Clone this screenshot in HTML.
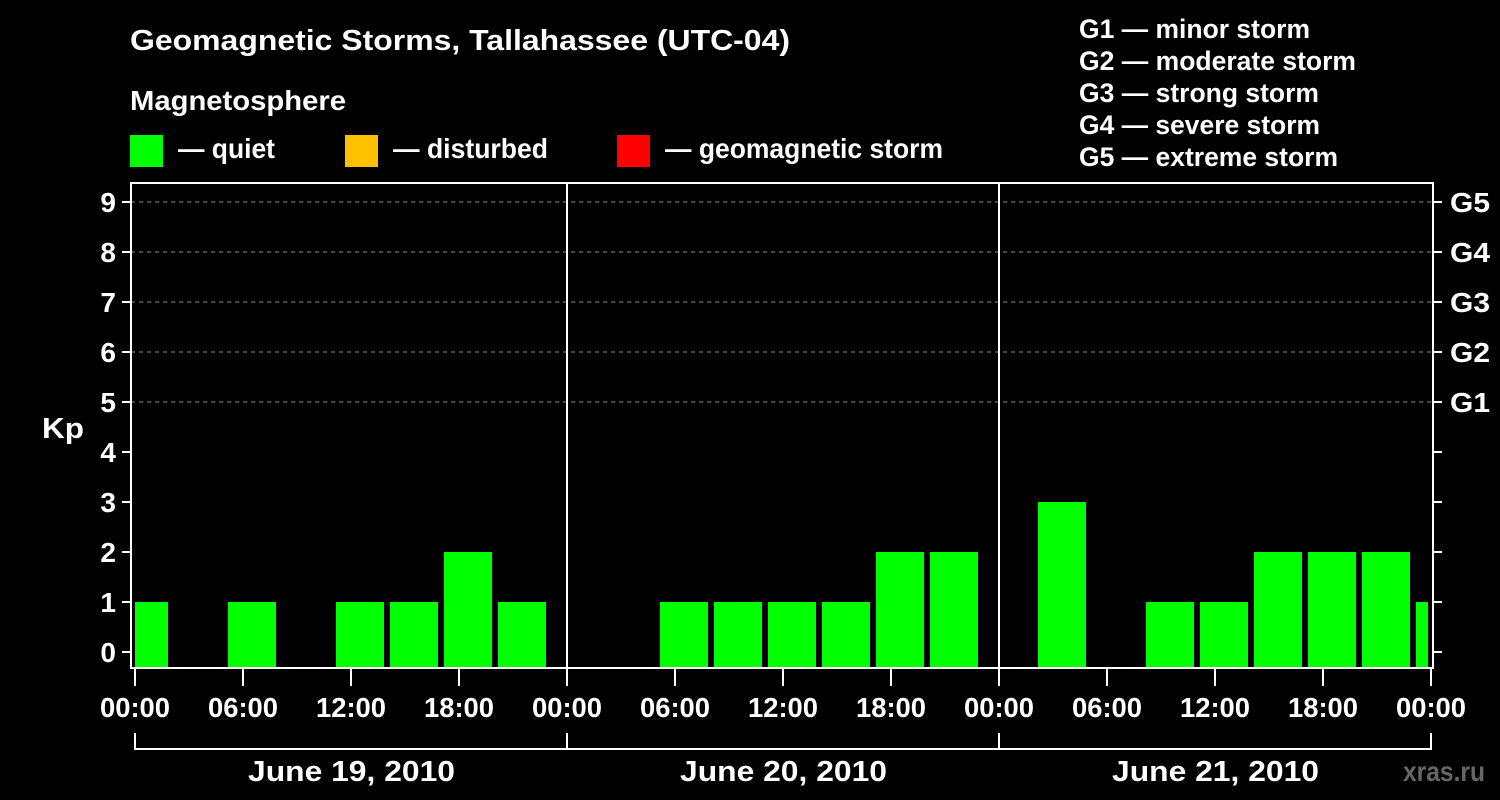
<!DOCTYPE html>
<html><head><meta charset="utf-8"><style>
html,body{margin:0;padding:0;background:#000;width:1500px;height:800px;overflow:hidden}
svg text{font-family:"Liberation Sans",sans-serif;font-weight:bold;fill:#fff}
</style></head><body>
<svg id="chart" width="1500" height="800" viewBox="0 0 1500 800" xmlns="http://www.w3.org/2000/svg">
<rect width="1500" height="800" fill="#000"/>
<text x="130" y="50" font-size="29" textLength="660" lengthAdjust="spacingAndGlyphs">Geomagnetic Storms, Tallahassee (UTC-04)</text>
<text x="130" y="110" font-size="28" textLength="216" lengthAdjust="spacingAndGlyphs">Magnetosphere</text>
<rect x="130" y="135" width="33" height="32" fill="#00ff00"/>
<text x="178" y="158" font-size="28" textLength="97" lengthAdjust="spacingAndGlyphs">— quiet</text>
<rect x="345" y="135" width="33" height="32" fill="#ffc000"/>
<text x="393" y="158" font-size="28" textLength="155" lengthAdjust="spacingAndGlyphs">— disturbed</text>
<rect x="617" y="135" width="33" height="32" fill="#ff0000"/>
<text x="665" y="158" font-size="28" textLength="278" lengthAdjust="spacingAndGlyphs">— geomagnetic storm</text>
<g>
<text x="1079" y="38" font-size="27" textLength="231" lengthAdjust="spacingAndGlyphs">G1 — minor storm</text>
<text x="1079" y="70" font-size="27" textLength="277" lengthAdjust="spacingAndGlyphs">G2 — moderate storm</text>
<text x="1079" y="102" font-size="27" textLength="240" lengthAdjust="spacingAndGlyphs">G3 — strong storm</text>
<text x="1079" y="134" font-size="27" textLength="241" lengthAdjust="spacingAndGlyphs">G4 — severe storm</text>
<text x="1079" y="166" font-size="27" textLength="259" lengthAdjust="spacingAndGlyphs">G5 — extreme storm</text>
</g>
<text x="42" y="438" font-size="29" textLength="42" lengthAdjust="spacingAndGlyphs">Kp</text>
<text x="1403" y="781" font-size="28" textLength="82" lengthAdjust="spacingAndGlyphs" style="fill:#666">xras.ru</text>
<g id="plot"></g>
</svg>
<script>
const kpValues = [1,0,1,0,1,1,2,1, 0,0,1,1,1,1,2,2, 0,3,0,1,1,2,2,2,1];
const slotStartHour = -1;
const slotHours = 3;
const yTicks = [0,1,2,3,4,5,6,7,8,9];
const gLevels = ["G1","G2","G3","G4","G5"];
const gKp = [5,6,7,8,9];
const xTickLabels = ["00:00","06:00","12:00","18:00","00:00","06:00","12:00","18:00","00:00","06:00","12:00","18:00","00:00"];
const dayLabels = ["June 19, 2010","June 20, 2010","June 21, 2010"];

const X0=135, HW=18, L=131, R=1433, T=183, B=668;
const xs = h => X0 + h*HW;
const ys = v => 652 - v*50;
const NS="http://www.w3.org/2000/svg";
const plot=document.getElementById('plot');
function mk(tag,attrs,parent){const e=document.createElementNS(NS,tag);for(const k in attrs)e.setAttribute(k,attrs[k]);(parent||plot).appendChild(e);return e;}

gKp.forEach((k,i)=>{
  const g=mk('line',{x1:L,x2:R,y1:ys(k),y2:ys(k),stroke:'#888','stroke-width':1,'stroke-dasharray':'4,4'});
  
  
});
kpValues.forEach((v,i)=>{
  if(v<=0) return;
  const s=slotStartHour+i*slotHours;
  let x1=xs(s)+3, x2=xs(s+slotHours)-3;
  x1=Math.max(x1,X0); x2=Math.min(x2,R-5);
  const c=v>=5?'#ff0000':(v>=4?'#ffc000':'#00ff00');
  const r=mk('rect',{x:x1,y:ys(v),width:x2-x1,height:ys(0)-ys(v)+16,fill:c});
  
  
});
[1,2].forEach(d=>{
  const l=mk('line',{x1:xs(d*24),x2:xs(d*24),y1:T,y2:B,stroke:'#fff','stroke-width':2});
  
  
});
const fr=mk('rect',{x:L,y:T,width:R-L,height:B-T,fill:'none',stroke:'#fff','stroke-width':2});


yTicks.forEach(v=>{
  const t=mk('line',{x1:L-9,x2:L,y1:ys(v),y2:ys(v),stroke:'#fff','stroke-width':2});
  
  
  const t2=mk('line',{x1:R,x2:R+9,y1:ys(v),y2:ys(v),stroke:'#fff','stroke-width':2});
  
  
  const tx=mk('text',{x:116,y:ys(v)+10,'font-size':28,'text-anchor':'end'});
  tx.textContent=v;
  
  
});
gLevels.forEach((g,i)=>{
  const tx=mk('text',{x:1450,y:ys(gKp[i])+10,'font-size':28,textLength:40,lengthAdjust:'spacingAndGlyphs'});
  tx.textContent=g;
  
  
});
xTickLabels.forEach((lab,i)=>{
  const x=Math.min(xs(i*6),R-2);
  const t=mk('line',{x1:x,x2:x,y1:B,y2:686,stroke:'#fff','stroke-width':2});
  
  
  const tx=mk('text',{x:x-35,y:717,'font-size':28,textLength:70,lengthAdjust:'spacingAndGlyphs'});
  tx.textContent=lab;
  
  
});
const br=mk('line',{x1:X0,x2:R-2,y1:749,y2:749,stroke:'#fff','stroke-width':2});


[0,1,2,3].forEach(d=>{
  const x=Math.min(xs(d*24),R-2);
  const t=mk('line',{x1:x,x2:x,y1:733,y2:750,stroke:'#fff','stroke-width':2});
  
  
});
dayLabels.forEach((d,i)=>{
  const tx=mk('text',{x:xs(i*24+12)-103,y:781,'font-size':29,textLength:207,lengthAdjust:'spacingAndGlyphs'});
  tx.textContent=d;
  
  
});
</script>
</body></html>
